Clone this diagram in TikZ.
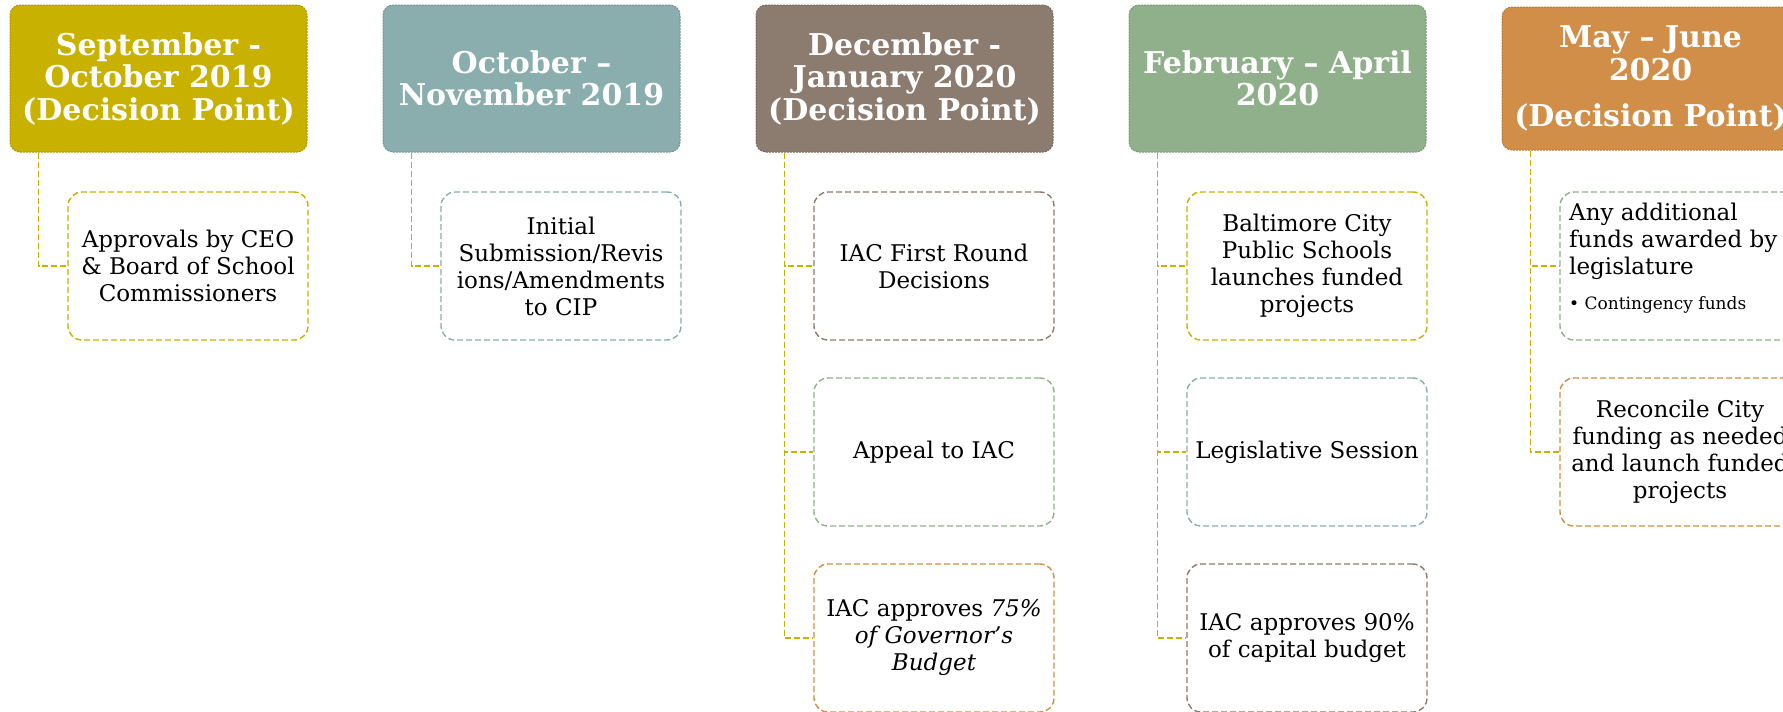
\documentclass[tikz,border=0pt]{standalone}
\usepackage{fontspec}
\setmainfont{DejaVu Serif}
\usepackage{xcolor}
\usepackage{tikz}
\usetikzlibrary{positioning}

\definecolor{oliveg}{HTML}{C9B100}
\definecolor{tealg}{HTML}{8AADAD}
\definecolor{browng}{HTML}{8C7B6F}
\definecolor{sageg}{HTML}{8FB08B}
\definecolor{orangeg}{HTML}{D08E48}

\tikzset{
  period/.style={rectangle, rounded corners=10pt, fill=#1, draw=#1!85!black,
    dash pattern=on 2pt off 1pt, line width=1pt, minimum width=297pt,
    minimum height=147pt, inner sep=0pt, align=center, text=white,
    font=\fontsize{30}{32.5}\selectfont\bfseries},
  task/.style={rectangle, rounded corners=14pt, draw=#1, dash pattern=on 6pt off 3pt,
    line width=1.4pt, minimum width=240pt, minimum height=148pt, inner sep=0pt,
    align=center, font=\fontsize{23}{27}\selectfont},
  link/.style={draw=oliveg, dash pattern=on 6pt off 3pt, line width=1.4pt}
}

\begin{document}
\begin{tikzpicture}[x=1pt,y=-1pt]
\useasboundingbox (0,0) rectangle (1783,712);

% time periods
\node[period=oliveg] (sep) at (158.5,78.5) {September -\\October 2019\\(Decision Point)};
\node[period=tealg] (oct) at (531.5,78.5) {October --\\November 2019};
\node[period=browng] (dec) at (904.5,78.5) {December -\\January 2020\\(Decision Point)};
\node[period=sageg] (feb) at (1277.5,78.5) {February -- April\\2020};
\node[period=orangeg, minimum height=143pt] (may) at (1650.5,78.5) {May -- June\\2020\\[14pt](Decision Point)};

% steps
\node[task=oliveg] (sep-1) at (188,266) {Approvals by CEO\\\& Board of School\\Commissioners};
\node[task=tealg] (oct-1) at (561,266) {Initial\\Submission/Revis\\ions/Amendments\\to CIP};
\node[task=browng] (dec-1) at (934,266) {IAC First Round\\Decisions};
\node[task=sageg] (dec-2) at (934,452) {Appeal to IAC};
\node[task=orangeg] (dec-3) at (934,638) {IAC approves \textit{75\%}\\\textit{of Governor's}\\\textit{Budget}};
\node[task=oliveg] (feb-1) at (1307,266) {Baltimore City\\Public Schools\\launches funded\\projects};
\node[task=tealg] (feb-2) at (1307,452) {Legislative Session};
\node[task=browng] (feb-3) at (1307,638) {IAC approves 90\%\\of capital budget};
\node[task=sageg] (may-1) at (1680,266) {};
\node[task=orangeg] (may-2) at (1680,452) {Reconcile City\\funding as needed\\and launch funded\\projects};
\node[anchor=north west, align=left, inner sep=0pt, font=\fontsize{23}{27}\selectfont]
  (may-1t) at (1569,203) {Any additional\\funds awarded by\\legislature\\[8pt]{\fontsize{17}{20}\selectfont\textbullet\ Contingency funds}};

% links
\foreach \p/\s in {sep/sep-1, oct/oct-1, dec/dec-1, dec/dec-2, dec/dec-3,
                   feb/feb-1, feb/feb-2, feb/feb-3, may/may-1, may/may-2}
  \draw[link] (\p.south west) ++(29,0) |- (\s.west);
\end{tikzpicture}
\end{document}
